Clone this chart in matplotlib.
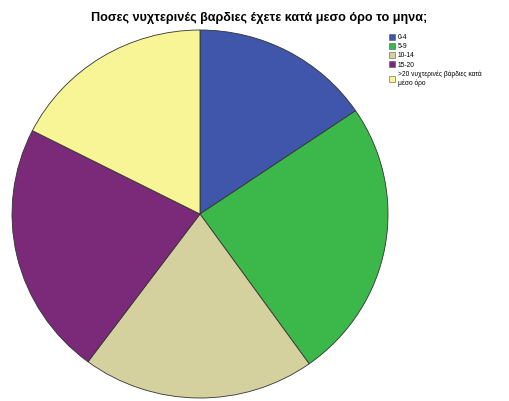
import matplotlib.pyplot as plt
from matplotlib.patches import Patch

labels = ['0-4', '5-9', '10-14', '15-20', '>20 νυχτερινές βάρδιες κατά\nμέσο όρο']
shares = [15.5, 24.6, 20.0, 22.3, 17.5]
colours = ['#3f56aa', '#3cb84a', '#d5d19f', '#7a2a78', '#f7f596']

fig = plt.figure(figsize=(5.10, 4.01), dpi=100)
ax = fig.add_axes([12/510, 3/401, 376/510, 368/401])
ax.pie(shares, colors=colours, startangle=90, counterclock=False,
       wedgeprops=dict(edgecolor='#333333', linewidth=0.6))
ax.set_aspect('auto')
ax.set_xlim(-1, 1)
ax.set_ylim(-1, 1)

fig.text(0.508, 0.955, 'Ποσες νυχτερινές βαρδιες έχετε κατά μεσο όρο το μηνα;',
         ha='center', va='center', fontsize=9.1, fontweight='bold',
         family='Liberation Sans')

handles = [Patch(facecolor=c, edgecolor='#555555', linewidth=0.4) for c in colours]
fig.legend(handles, labels, loc='upper left', bbox_to_anchor=(386/510, 1 - 31/401),
           frameon=False, handlelength=1.0, handleheight=1.0,
           handletextpad=0.4, labelspacing=0.3, borderaxespad=0,
           prop=dict(family='Liberation Sans', size=4.8))

fig.savefig('out.png', dpi=100)
